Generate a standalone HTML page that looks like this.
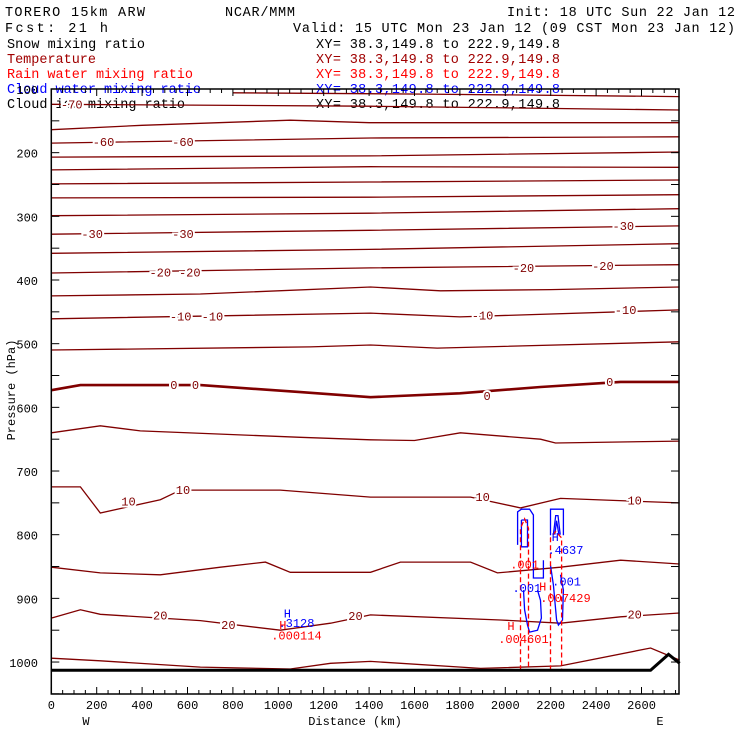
<!DOCTYPE html>
<html><head><meta charset="utf-8"><style>
body{margin:0;background:#fff;}
svg{display:block;font-family:"Liberation Mono",monospace;}
</style></head><body>
<svg id="chart" width="740" height="740" viewBox="0 0 740 740">
<g font-size="13.5">
<text x="5" y="16" textLength="140" lengthAdjust="spacing">TORERO  15km ARW</text>
<text x="225" y="16" textLength="70" lengthAdjust="spacing">NCAR/MMM</text>
<text x="507" y="16" textLength="228" lengthAdjust="spacing">Init: 18 UTC Sun 22 Jan 12</text>
<text x="5" y="32" textLength="103" lengthAdjust="spacing">Fcst:   21 h</text>
<text x="293" y="32" textLength="442" lengthAdjust="spacing">Valid: 15 UTC Mon 23 Jan 12 (09 CST Mon 23 Jan 12)</text>
<text x="7" y="48" textLength="138" lengthAdjust="spacing">Snow mixing ratio</text>
<text x="316" y="48" textLength="244" lengthAdjust="spacing">XY=  38.3,149.8 to 222.9,149.8</text>
<text x="7" y="63" textLength="89" lengthAdjust="spacing" fill="#a00000">Temperature</text>
<text x="316" y="63" textLength="244" lengthAdjust="spacing" fill="#a00000">XY=  38.3,149.8 to 222.9,149.8</text>
<text x="7" y="78" textLength="186" lengthAdjust="spacing" fill="#ff0000">Rain water mixing ratio</text>
<text x="316" y="78" textLength="244" lengthAdjust="spacing" fill="#ff0000">XY=  38.3,149.8 to 222.9,149.8</text>
<text x="7" y="93" textLength="194" lengthAdjust="spacing" fill="#0000ff">Cloud water mixing ratio</text>
<text x="316" y="93" textLength="244" lengthAdjust="spacing" fill="#0000ff">XY=  38.3,149.8 to 222.9,149.8</text>
<text x="7" y="108" textLength="178" lengthAdjust="spacing">Cloud ice mixing ratio</text>
<text x="316" y="108" textLength="244" lengthAdjust="spacing">XY=  38.3,149.8 to 222.9,149.8</text>
</g>
<g id="plot"></g>
<g id="axes" font-size="12"></g>
<text x="15" y="390" font-size="12" text-anchor="middle" transform="rotate(-90 15 390)">Pressure (hPa)</text>
<text x="355" y="725" font-size="12" text-anchor="middle">Distance (km)</text>
<text x="86" y="725" font-size="12" text-anchor="middle">W</text>
<text x="660" y="725" font-size="12" text-anchor="middle">E</text>
</svg>
<script>
// ---- data ----
const isoValues = [-75,-70,-65,-60,-55,-50,-45,-40,-35,-30,-25,-20,-15,-10,-5,0,5,10,15,20,25];
const isoLines = [
 [[800,106],[1650,108],[2768,112]],
 [[0,124],[1400,127],[2768,133]],
 [[0,164],[400,157],[1053,149],[1400,153],[2768,153]],
 [[0,185],[1406,177],[2768,175]],
 [[0,207],[1400,205],[2768,199]],
 [[0,227],[1406,222],[2768,223]],
 [[0,249],[1400,246],[2768,243]],
 [[0,271],[1400,270],[2768,266]],
 [[0,299],[1400,295],[2768,288]],
 [[0,328],[1400,322],[2768,315]],
 [[0,358],[1400,352],[2768,343]],
 [[0,389],[1406,381],[2768,376]],
 [[0,425],[657,422],[1406,411],[1714,417],[2200,415],[2768,411]],
 [[0,461],[1406,452],[1800,458],[2768,447]],
 [[0,510],[1141,505],[1406,502],[1700,507],[2768,497]],
 [[0,573],[128,565],[657,565],[1097,576],[1406,584],[1800,578],[2155,568],[2508,560],[2768,560]],
 [[0,640],[216,629],[392,637],[1097,647],[1406,651],[1600,652],[1802,640],[2155,650],[2221,656],[2768,653]],
 [[0,725],[128,725],[216,766],[480,745],[569,730],[1009,730],[1406,741],[1847,741],[2067,758],[2243,743],[2768,750]],
 [[0,851],[216,860],[480,863],[745,851],[943,843],[1053,859],[1406,859],[1538,843],[1847,843],[1965,860],[2243,851],[2508,840],[2768,846]],
 [[0,931],[128,918],[216,925],[657,935],[1009,950],[1230,939],[1406,926],[1979,934],[2243,939],[2508,929],[2768,923]],
 [[0,994],[216,998],[657,1008],[1053,1011],[1230,1002],[1406,999],[1891,1010],[2243,1006],[2640,978],[2768,997]]
];
const isoLabels = [["-70",90,124],["-60",230,183],["-60",580,183],["-30",180,328],["-30",580,328],["-30",2520,315],
 ["-20",480,388],["-20",610,388],["-20",2080,381],["-20",2430,378],["-10",570,457],["-10",710,457],["-10",1900,456],["-10",2530,447],
 ["0",540,565],["0",635,565],["0",1920,582],["0",2460,560],["10",340,748],["10",580,730],["10",1900,741],["10",2570,746],
 ["20",480,927],["20",780,942],["20",1340,928],["20",2570,925]];
const topoKm = [0,2640,2719,2768];
const topoP = [1013,1013,988,1002];
const cloudWater = [
 [[2054,816],[2054,764],[2071,760],[2107,760],[2124,769],[2124,868],[2168,868],[2168,840]],
 [[2071,777],[2098,777],[2098,819],[2071,819],[2071,777]],
 [[2080,887],[2085,918],[2098,942],[2107,953],[2142,950],[2159,931],[2155,903],[2142,887]],
 [[2199,801],[2199,760],[2256,760],[2256,801]],
 [[2212,800],[2222,770],[2232,770],[2242,800]],
 [[2218,800],[2226,778],[2236,800]],
 [[2199,848],[2212,879],[2226,934],[2234,942],[2252,934],[2256,887],[2243,863]]
];
const rainWater = [
 [[2067,1013],[2067,790],[2085,775],[2102,790],[2102,1013]],
 [[2199,1013],[2199,805],[2222,795],[2248,805],[2248,1013]]
];
const pointLabels = [
 ["H",1040,930,"#0000ff"],[".3128",1080,945,"#0000ff"],["H",1020,948,"#ff0000"],[".000114",1080,965,"#ff0000"],
 ["H",2220,810,"#0000ff"],[".4637",2265,830,"#0000ff"],[".001",2095,890,"#0000ff"],[".001",2270,880,"#0000ff"],
 [".001",2085,853,"#ff0000"],["H",2165,888,"#ff0000"],[".007429",2265,906,"#ff0000"],["H",2025,950,"#ff0000"],[".004601",2080,970,"#ff0000"]
];
const yTicks = [100,200,300,400,500,600,700,800,900,1000];
const xTicks = [0,200,400,600,800,1000,1200,1400,1600,1800,2000,2200,2400,2600];
// ---- axes ----
const X0=51.3, KX=0.227, Y0=89, KY=0.6367, XR=679, YB=694;
const xs = km => X0 + km*KX;
const ys = p => Y0 + (p-100)*KY;
const NS="http://www.w3.org/2000/svg";
const plot=document.getElementById('plot'), axes=document.getElementById('axes');
function mk(tag, attrs, parent){const e=document.createElementNS(NS,tag);for(const k in attrs)e.setAttribute(k,attrs[k]);parent.appendChild(e);return e;}
const pts = arr => arr.map(d=>xs(d[0]).toFixed(1)+','+ys(d[1]).toFixed(1)).join(' ');
isoLines.forEach((ln,i)=>{
 const e=mk('polyline',{points:pts(ln),fill:'none',stroke:'#800000','stroke-width':isoValues[i]===0?2.6:1.3},plot);
 
 
});
isoLabels.forEach(l=>{
 const t=mk('text',{x:xs(l[1]),y:ys(l[2])+4,'font-size':12,'text-anchor':'middle',fill:'#800000',stroke:'#fff','stroke-width':4,'paint-order':'stroke'},plot);
 t.textContent=l[0];
 
 
});
cloudWater.forEach(c=>{
 const e=mk('polyline',{points:pts(c),fill:'none',stroke:'#0000ff','stroke-width':1.3},plot);
 
 
});
rainWater.forEach(c=>{
 const e=mk('polyline',{points:pts(c),fill:'none',stroke:'#ff0000','stroke-width':1.3,'stroke-dasharray':'5,3'},plot);
 
 
});
const topo=mk('polyline',{points:topoKm.map((k,i)=>xs(k)+','+ys(topoP[i])).join(' '),fill:'none',stroke:'#000','stroke-width':3},plot);


pointLabels.forEach(l=>{
 const t=mk('text',{x:xs(l[1]),y:ys(l[2]),'font-size':12,'text-anchor':'middle',fill:l[3]},plot);
 t.textContent=l[0];
 
 
});
const frame=mk('rect',{x:X0,y:Y0,width:XR-X0,height:YB-Y0,fill:'none',stroke:'#000','stroke-width':1.5},axes);


for(let p=100;p<=1050;p+=50){
 const y=ys(p);
 mk('line',{x1:X0,x2:X0+8,y1:y,y2:y,stroke:'#000'},axes);
 mk('line',{x1:XR-8,x2:XR,y1:y,y2:y,stroke:'#000'},axes);
}
yTicks.forEach(p=>{
 const t=mk('text',{x:38,y:ys(p)+5,'text-anchor':'end'},axes);
 t.textContent=p;
 
 
});
for(let k=0;k<=2750;k+=50){
 const x=xs(k), L=(k%200===0)?7:4;
 mk('line',{x1:x,x2:x,y1:YB,y2:YB-L,stroke:'#000'},axes);
 mk('line',{x1:x,x2:x,y1:Y0,y2:Y0+L,stroke:'#000'},axes);
}
xTicks.forEach(k=>{
 const t=mk('text',{x:xs(k),y:709,'text-anchor':'middle'},axes);
 t.textContent=k;
 
 
});
</script>
</body></html>
